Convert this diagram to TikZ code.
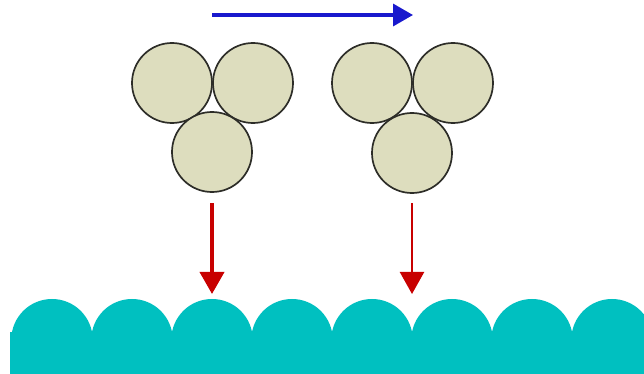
\documentclass[tikz,border=0pt]{standalone}
\usetikzlibrary{arrows.meta, positioning}
\definecolor{ballfill}{RGB}{221,221,190}
\definecolor{balledge}{RGB}{45,45,40}
\definecolor{surface}{RGB}{0,192,192}
\definecolor{moveblue}{RGB}{25,25,205}
\definecolor{fallred}{RGB}{200,0,0}
\tikzset{
  ball/.style={circle, draw=balledge, fill=ballfill, line width=1.2pt, minimum size=2cm, inner sep=0pt},
  move/.style={-{Triangle[length=0.5cm, width=0.55cm]}, line width=2.5pt, moveblue},
  fall/.style={-{Triangle[length=0.55cm, width=0.6cm]}, fallred},
}
\begin{document}
\begin{tikzpicture}[x=0.025cm, y=-0.025cm]
  \useasboundingbox (0,0) rectangle (644,374);
  % surface
  \begin{scope}
    \clip (10,0) rectangle (644,374);
    \fill[surface] (10,332) rectangle (644,374);
    \foreach \i in {0,...,7}
      \fill[surface] (52+80*\i, 339.7) circle[radius=1.0175cm];
  \end{scope}
  % cluster before and after
  \node[ball] (l1) at (172,83) {};
  \node[ball] (l2) at (253,83) {};
  \node[ball] (l3) at (212,152) {};
  \node[ball] (r1) at (372,83) {};
  \node[ball] (r2) at (453,83) {};
  \node[ball] (r3) at (412,153) {};
  % arrows
  \coordinate (mstart) at (212,15);
  \coordinate (mend) at (413,15);
  \coordinate (ltop) at (212,203);
  \coordinate (lhit) at (212,294);
  \coordinate (rtop) at (412,203);
  \coordinate (rhit) at (412,294);
  \draw[move] (mstart) -- (mend);
  \draw[fall, line width=2.6pt] (ltop) -- (lhit);
  \draw[fall, line width=1.6pt] (rtop) -- (rhit);
\end{tikzpicture}
\end{document}
